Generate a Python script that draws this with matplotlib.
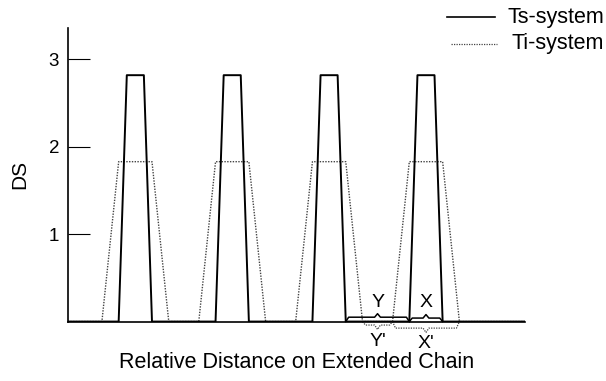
import matplotlib
matplotlib.use("Agg")
import matplotlib.pyplot as plt
from matplotlib.lines import Line2D

plt.rcParams['font.family'] = ['Liberation Sans', 'DejaVu Sans']

# Peak centres along the chain (relative distance units)
centers = [7.0, 17.0, 27.0, 37.0]

# Ts-system trapezoid: half-widths at base / top and plateau height
ts_base_half = 1.72
ts_top_half = 0.88
ts_height = 2.82

# Ti-system trapezoid
ti_base_half = 3.45
ti_top_half = 1.72
ti_height = 1.83

x_end = 47.2
y_ticks = [1, 2, 3]


def trapezoid_path(cs, base_half, top_half, height, x_max):
    xs, ys = [0.0], [0.0]
    for c in cs:
        xs += [c - base_half, c - top_half, c + top_half, c + base_half]
        ys += [0.0, height, height, 0.0]
    xs.append(x_max)
    ys.append(0.0)
    return xs, ys


def brace(ax, a, b, level, tip, **kw):
    c = (a + b) / 2.0
    e = 0.3
    xs = [a, a + e, c - e, c, c + e, b - e, b]
    ys = [0.0, level, level, level + tip, level, level, 0.0]
    ax.plot(xs, ys, clip_on=False, **kw)


fig = plt.figure(figsize=(6.06, 3.81), dpi=100)
ax = fig.add_axes([0.1114, 0.156, 0.7546, 0.7705])

ts_x, ts_y = trapezoid_path(centers, ts_base_half, ts_top_half, ts_height, x_end)
ti_x, ti_y = trapezoid_path(centers, ti_base_half, ti_top_half, ti_height, x_end)

ax.plot(ti_x, ti_y, color='#444444', lw=1.0, linestyle=(0, (1, 1)))
ax.plot(ts_x, ts_y, color='black', lw=1.4)

ax.set_xlim(0, x_end)
ax.set_ylim(0, 3.36)
ax.spines['top'].set_visible(False)
ax.spines['right'].set_visible(False)
ax.spines['left'].set_linewidth(1.2)
ax.spines['bottom'].set_linewidth(1.2)
ax.set_xticks([])
ax.set_yticks(y_ticks)
ax.tick_params(axis='y', direction='in', length=16, width=0.8, pad=6,
               labelsize=13.5)
ax.set_ylabel('DS', fontsize=15, labelpad=14)
ax.set_xlabel('Relative Distance on Extended Chain', fontsize=15.5,
              labelpad=22)

# Spacing annotations between peaks 3 and 4
c3, c4 = centers[2], centers[3]
y_a, y_b = c3 + ts_base_half, c4 - ts_base_half
x_a, x_b = c4 - ts_base_half, c4 + ts_base_half
yp_a, yp_b = c3 + ti_base_half, c4 - ti_base_half
xp_a, xp_b = c4 - ti_base_half, c4 + ti_base_half

brace(ax, y_a, y_b, 0.05, 0.04, color='black', lw=1.1)
brace(ax, x_a, x_b, 0.04, 0.04, color='black', lw=1.1)
brace(ax, yp_a, yp_b, -0.04, -0.05, color='#444444', lw=0.9,
      linestyle=(0, (1, 1)))
brace(ax, xp_a, xp_b, -0.075, -0.05, color='#444444', lw=0.9,
      linestyle=(0, (1, 1)))

lab = dict(ha='center', va='center', fontsize=14, clip_on=False)
ax.text((y_a + y_b) / 2, 0.22, 'Y', **lab)
ax.text((x_a + x_b) / 2, 0.22, 'X', **lab)
ax.text((yp_a + yp_b) / 2, -0.23, "Y'", **lab)
ax.text((xp_a + xp_b) / 2, -0.25, "X'", **lab)

# Legend drawn in figure pixels
W, H = 606, 381
fig.add_artist(Line2D([447 / W, 495 / W], [1 - 17 / H, 1 - 17 / H],
                      color='black', lw=1.2))
fig.add_artist(Line2D([451 / W, 497 / W], [1 - 44 / H, 1 - 44 / H],
                      color='#444444', lw=0.9, linestyle=(0, (1, 1))))
fig.text(604 / W, 1 - 17 / H, 'Ts-system', ha='right', va='center',
         fontsize=15.5)
fig.text(604 / W, 1 - 44 / H, 'Ti-system', ha='right', va='center',
         fontsize=15.5)

fig.savefig('out.png', dpi=100)
